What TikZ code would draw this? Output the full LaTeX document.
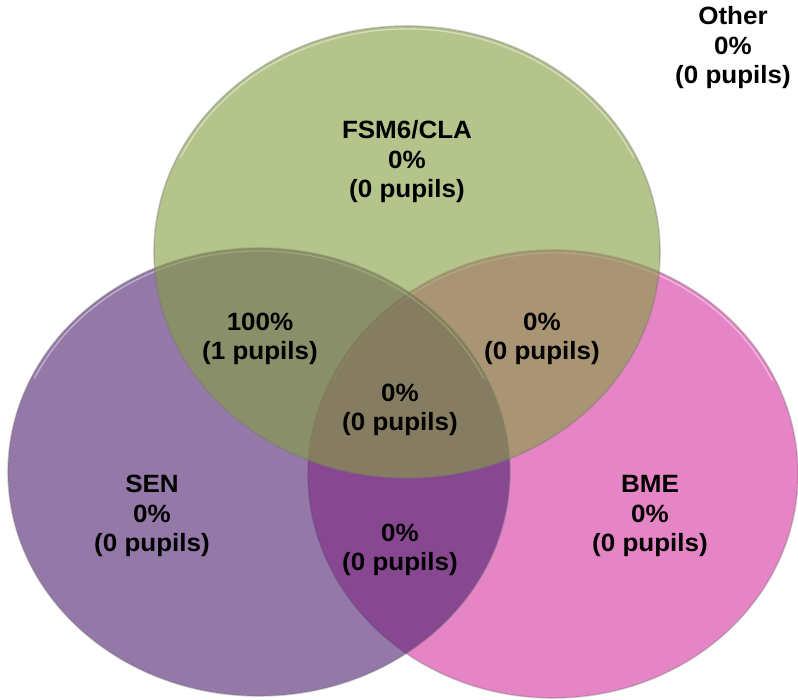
\documentclass[tikz,border=0pt]{standalone}
\usepackage{fontspec}
\setmainfont{Liberation Sans}
\definecolor{cgreen}{RGB}{132,158,66}
\definecolor{cpurple}{RGB}{78,35,113}
\definecolor{cpink}{RGB}{213,55,160}
\tikzset{
  setfill/.style={fill=#1, fill opacity=0.61},
  setedge/.style={draw=black!55, draw opacity=0.35, line width=1.6pt},
  shine/.style={draw=white, draw opacity=0.45, line width=1.2pt},
  lbl/.style={align=center, font=\fontsize{25}{29.5}\selectfont\bfseries, text=black, inner sep=0pt, xscale=1.04}
}
\begin{document}
\begin{tikzpicture}[x=1pt,y=-1pt]
\useasboundingbox (0,0) rectangle (798,700);
% pink (BME)
\path[setfill=cpink] (553,474) ellipse[x radius=245, y radius=224];
\draw[setedge] (553,474) ellipse[x radius=245, y radius=224];
\draw[shine] (553,474) ++(205:242 and 221) arc[start angle=205, end angle=335, x radius=242, y radius=221];
% purple (SEN)
\path[setfill=cpurple] (259,472) ellipse[x radius=251, y radius=224];
\draw[setedge] (259,472) ellipse[x radius=251, y radius=224];
\draw[shine] (259,472) ++(205:248 and 221) arc[start angle=205, end angle=335, x radius=248, y radius=221];
% green (FSM6/CLA)
\path[setfill=cgreen] (407,252) ellipse[x radius=253, y radius=226];
\draw[setedge] (407,252) ellipse[x radius=253, y radius=226];
\draw[shine] (407,252) ++(205:250 and 223) arc[start angle=205, end angle=335, x radius=250, y radius=223];
% labels
\node[lbl] (other) at (733,48) {Other\\0\%\\(0 pupils)};
\node[lbl] (fsm) at (407,162) {FSM6/CLA\\0\%\\(0 pupils)};
\node[lbl] (fsmsen) at (260,339) {100\%\\(1 pupils)};
\node[lbl] (fsmbme) at (542,339) {0\%\\(0 pupils)};
\node[lbl] (all) at (400,410) {0\%\\(0 pupils)};
\node[lbl] (senbme) at (400,550) {0\%\\(0 pupils)};
\node[lbl] (sen) at (152,516) {SEN\\0\%\\(0 pupils)};
\node[lbl] (bme) at (650,516) {BME\\0\%\\(0 pupils)};
\end{tikzpicture}
\end{document}
